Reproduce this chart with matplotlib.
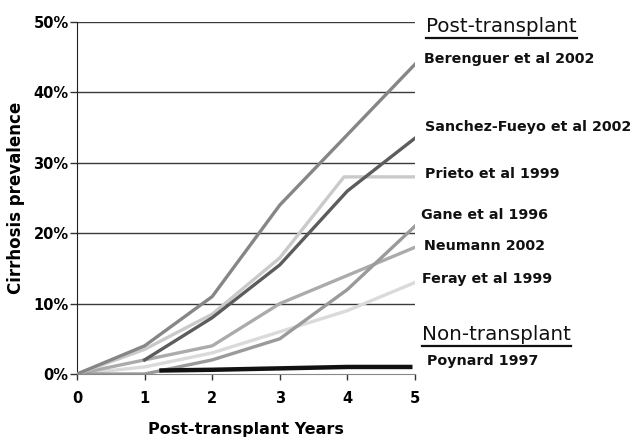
import matplotlib
matplotlib.use("Agg")
import matplotlib.pyplot as plt
from matplotlib.lines import Line2D

years = [0, 1, 2, 3, 4, 5]
berenguer = [0.0, 0.04, 0.11, 0.24, 0.34, 0.44]
sanchez_x = [1, 2, 3, 4, 5]
sanchez = [0.02, 0.08, 0.155, 0.26, 0.335]
prieto_x = [0, 1, 2, 3, 3.95, 5]
prieto = [0.0, 0.035, 0.085, 0.165, 0.28, 0.28]
gane = [0.0, 0.0, 0.02, 0.05, 0.12, 0.21]
neumann = [0.0, 0.02, 0.04, 0.10, 0.14, 0.18]
feray = [0.0, 0.01, 0.03, 0.06, 0.09, 0.13]
poynard_x = [1.25, 2, 3, 4, 4.93]
poynard = [0.005, 0.006, 0.008, 0.01, 0.01]

yticks = [0, 0.1, 0.2, 0.3, 0.4, 0.5]
ytick_labels = ["0%", "10%", "20%", "30%", "40%", "50%"]

fig = plt.figure(figsize=(6.44, 4.37), dpi=100)
ax = fig.add_axes([77/644, 1-374/437, (415-77)/644, (374-22)/437])
ax.set_xlim(0, 5)
ax.set_ylim(0, 0.5)

for y in yticks[1:]:
    ax.axhline(y, color="#3a3a3a", lw=1.0, zorder=1)

lw = 2.4
ax.plot(years, feray, color="#dadada", lw=lw, zorder=2)
ax.plot(years, neumann, color="#ababab", lw=lw, zorder=2)
ax.plot(years, gane, color="#9a9a9a", lw=lw, zorder=2)
ax.plot(prieto_x, prieto, color="#cacaca", lw=lw, zorder=3)
ax.plot(sanchez_x, sanchez, color="#5c5c5c", lw=lw, zorder=3)
ax.plot(years, berenguer, color="#868686", lw=lw, zorder=3)
ax.plot(poynard_x, poynard, color="#111111", lw=3.2, zorder=4)

ax.set_xticks(years)
ax.set_xticklabels([str(v) for v in years], fontweight="bold", fontsize=10.5)
ax.set_yticks(yticks)
ax.set_yticklabels(ytick_labels, fontweight="bold", fontsize=10.5)
ax.tick_params(axis="x", direction="out", length=4, width=1, color="#333333", pad=8)
ax.tick_params(axis="y", direction="out", length=5, width=1, color="#333333", pad=1)
for s in ["top", "right"]:
    ax.spines[s].set_visible(False)
ax.spines["left"].set_color("#222222")
ax.spines["bottom"].set_color("#888888")
ax.set_ylabel("Cirrhosis prevalence", fontweight="bold", fontsize=12, labelpad=6)
ax.set_xlabel("Post-transplant Years", fontweight="bold", fontsize=11.5, labelpad=12)

labels = [
    ("Berenguer et al 2002", 424, 59),
    ("Sanchez-Fueyo et al 2002", 425, 127),
    ("Prieto et al 1999", 425, 174),
    ("Gane et al 1996", 421, 215),
    ("Neumann 2002", 424, 246),
    ("Feray et al 1999", 422, 279),
    ("Poynard 1997", 427, 361),
]
for t, x, y in labels:
    fig.text(x/644, 1-y/437, t, fontsize=10.3, fontweight="bold", va="center", ha="left", color="#111111")

headers = [("Post-transplant", 426, 27), ("Non-transplant", 422, 335)]
htexts = []
for t, x, y in headers:
    ht = fig.text(x/644, 1-y/437, t, fontsize=14.3, fontweight="medium", va="center", ha="left", color="#111111")
    htexts.append(ht)

fig.canvas.draw()
r = fig.canvas.get_renderer()
for ht in htexts:
    bb = ht.get_window_extent(r)
    yline = (bb.y0 - 1) / 437
    fig.add_artist(Line2D([bb.x0/644, bb.x1/644], [yline, yline], color="#111111", lw=1.6,
                          transform=fig.transFigure))

fig.savefig("out.png", dpi=100)
